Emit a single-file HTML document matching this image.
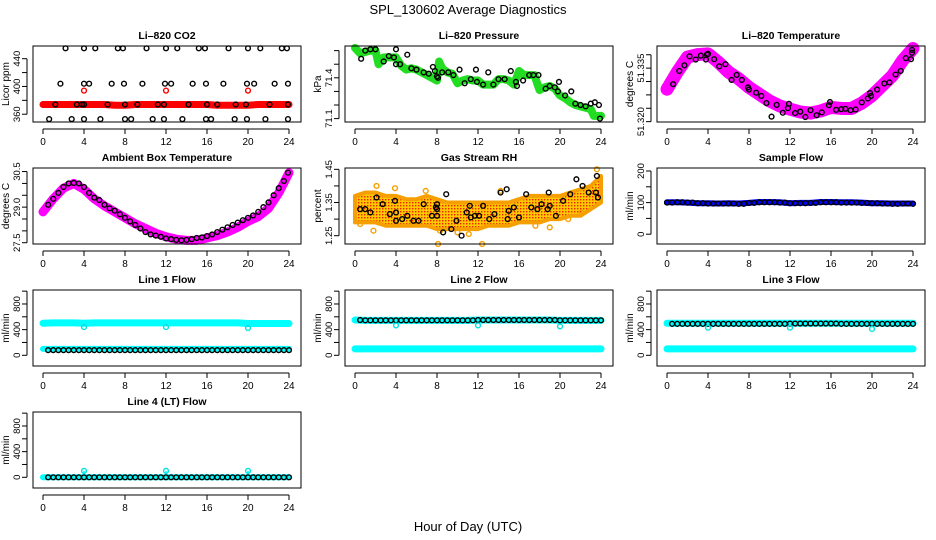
<!DOCTYPE html>
<html><head><meta charset="utf-8">
<style>
body{margin:0;background:#fff;}
svg{display:block;font-family:"Liberation Sans",Arial,sans-serif;}
</style></head>
<body>
<svg id="chart" width="936" height="540" viewBox="0 0 936 540" xmlns="http://www.w3.org/2000/svg">
<defs>
<pattern id="rhpat" width="3" height="3" patternUnits="userSpaceOnUse"><rect width="3" height="3" fill="#ffc800"/><rect x="1" y="1" width="1.4" height="1.4" fill="#f02000"/></pattern>
</defs>
<rect width="936" height="540" fill="#fff"/>
<text x="468" y="14" text-anchor="middle" font-size="13">SPL_130602  Average Diagnostics</text>
<text x="468" y="531" text-anchor="middle" font-size="13">Hour of Day (UTC)</text>
<g id="plots"></g>
</svg>
<script>
// ---- data ----
const xTicks=[0,4,8,12,16,20,24];
const bandHours=[0,1,2,3,4,5,6,7,8,9,10,11,12,13,14,15,16,17,18,19,20,21,22,23,24];
// CO2
const co2TopH=[2.2,4,5.1,7.3,7.8,10.1,12,13.1,15.2,15.8,18.1,20,21.2,23.3,23.8];
const co2MidH=[1.7,4,4.5,6.7,7.9,9.7,11.9,12.5,14.6,15.9,17.6,19.9,20.6,22.6,23.9];
const co2LowH=[1.2,3.3,3.8,4,6.3,8,9.2,11.2,11.8,14.2,16,17,18.8,19.8,22.1,23.9];
const co2BotH=[0.6,2.8,4,5.6,8,8.6,10.7,11.8,13.6,15.9,16.4,18.7,19.9,21.7,23.9];
const co2Levels=[455,404,374,353];
const co2Red=[374,374,374,374,374,374,374,373,373,374,374,374,374,374,374,374,374,373,373,373,373,374,374,374,374];
const co2RedPtsH=[4,12,20];
const co2RedPts=[394,394,394];
// Pressure
const presBandH=[0,0.5,1,1.5,2,2.3,2.8,3.5,4,4.5,5,5.5,6,6.5,7,7.5,8,8.2,8.5,9,9.5,10,10.5,11,11.5,12,12.5,13,13.5,14,14.5,15,15.5,16,16.5,17,17.5,18,18.5,19,19.5,20,20.5,21,21.5,22,22.5,23,23.3,24];
const presBand=[71.62,71.58,71.59,71.6,71.6,71.5,71.55,71.55,71.55,71.49,71.46,71.47,71.46,71.44,71.42,71.4,71.38,71.52,71.47,71.44,71.43,71.36,71.38,71.39,71.38,71.38,71.35,71.35,71.35,71.39,71.39,71.38,71.35,71.45,71.42,71.42,71.42,71.31,71.33,71.34,71.32,71.27,71.25,71.22,71.2,71.19,71.18,71.17,71.12,71.12];
const presPtsH=[0.6,1,1.5,2,2.8,3.3,3.8,4,4,4.4,5.1,5.5,6,6.7,7.2,7.6,7.8,8,8.1,8.5,9.1,9.6,10.2,10.7,11.3,11.8,11.9,12.5,13,13.5,14,14.6,15.2,15.7,15.8,16.4,17,17.4,17.9,18.6,19,19.5,19.8,19.9,20.5,21.1,21.5,22,22.5,23,23.4,23.8,23.9];
const presPts=[71.54,71.6,71.61,71.61,71.52,71.56,71.55,71.61,71.5,71.5,71.57,71.47,71.46,71.44,71.43,71.48,71.45,71.41,71.4,71.44,71.44,71.42,71.46,71.36,71.39,71.46,71.37,71.35,71.44,71.35,71.39,71.39,71.45,71.37,71.34,71.38,71.42,71.42,71.42,71.32,71.34,71.33,71.3,71.37,71.27,71.3,71.21,71.2,71.19,71.21,71.22,71.2,71.1];
// Li-820 temperature
const tempBand=[51.3291,51.3339,51.3381,51.3388,51.339,51.3367,51.3339,51.332,51.3296,51.3277,51.3258,51.3244,51.3235,51.3227,51.3224,51.323,51.324,51.3237,51.3237,51.3252,51.3273,51.3301,51.3329,51.3372,51.3405];
const tempPtsH=[0.6,1.2,1.7,2.2,2.8,3.3,3.8,3.9,4,4.6,5.1,5.7,6.3,6.8,7.3,7.9,8,8.7,9.2,9.7,10.2,10.7,11.3,11.8,11.9,12.5,13,13.5,14,14.6,15.1,15.8,15.9,16.5,17,17.4,17.9,18.4,19,19.6,19.8,19.9,20.5,21.2,21.7,22.3,22.8,23.3,23.8,23.9,23.9];
const tempPts=[51.3305,51.3342,51.3358,51.3383,51.3374,51.3385,51.3374,51.3388,51.339,51.3375,51.3355,51.3361,51.3317,51.3331,51.3317,51.3296,51.329,51.3281,51.3272,51.3252,51.3214,51.3247,51.3225,51.3238,51.325,51.3224,51.3228,51.3213,51.3232,51.3218,51.3226,51.3246,51.3255,51.3233,51.3235,51.3236,51.3232,51.3234,51.3254,51.3265,51.328,51.3272,51.329,51.3307,51.331,51.3332,51.3342,51.3378,51.3375,51.3393,51.3401];
// Ambient box temperature
const ambBand=[28.8,29.35,29.8,30.0,29.75,29.35,29.05,28.8,28.55,28.3,28.1,27.9,27.75,27.65,27.6,27.6,27.7,27.8,27.95,28.15,28.4,28.6,28.95,29.6,30.45];
const ambPtsH=[0.5,1,1.5,2,2.5,3,3.5,4,4.5,5,5.5,6,6.5,7,7.5,8,8.5,9,9.5,10,10.5,11,11.5,12,12.5,13,13.5,14,14.5,15,15.5,16,16.5,17,17.5,18,18.5,19,19.5,20,20.5,21,21.5,22,22.5,23,23.5,23.9];
const ambPts=[29.1,29.35,29.6,29.85,30.0,30.02,30.0,29.85,29.6,29.4,29.3,29.1,28.95,28.85,28.7,28.55,28.4,28.25,28.1,27.95,27.85,27.8,27.75,27.68,27.65,27.62,27.6,27.62,27.65,27.7,27.72,27.78,27.85,27.95,28.05,28.15,28.25,28.35,28.45,28.55,28.65,28.8,29.0,29.2,29.5,29.8,30.1,30.45];
// Gas stream RH
const rhUpper=[1.37,1.38,1.38,1.37,1.37,1.36,1.36,1.37,1.36,1.35,1.35,1.35,1.35,1.35,1.35,1.35,1.36,1.37,1.37,1.37,1.37,1.38,1.39,1.4,1.43];
const rhLower=[1.29,1.29,1.29,1.28,1.28,1.28,1.28,1.28,1.27,1.27,1.27,1.27,1.27,1.28,1.28,1.28,1.29,1.29,1.29,1.3,1.3,1.31,1.31,1.33,1.35];
const rhOutH=[0.5,1.8,2.1,3.9,6.9,8.1,8.3,10,11.1,12.4,14.2,17.6,19,20.8,22.1,23.6];
const rhOut=[1.285,1.265,1.40,1.393,1.385,1.225,1.265,1.26,1.255,1.225,1.385,1.28,1.275,1.30,1.32,1.45];
const rhPtsH=[0.5,1,1.5,2.1,2.7,3.4,3.9,4,4,4.6,5.1,5.7,6.2,6.7,7.5,7.9,8,8,8,8.6,8.9,9.4,9.9,10.4,10.9,11.2,11.3,11.7,12.1,12.5,13.1,13.6,14.2,14.8,14.9,15,15.5,16,16.7,17.2,17.8,18.2,18.8,18.9,19,19.6,20.3,21,21.6,22.2,22.8,23.5,23.6,23.7];
const rhPts=[1.33,1.33,1.32,1.365,1.345,1.315,1.355,1.295,1.32,1.30,1.31,1.295,1.295,1.345,1.31,1.335,1.33,1.31,1.345,1.26,1.375,1.27,1.295,1.25,1.32,1.34,1.305,1.31,1.31,1.34,1.30,1.315,1.38,1.39,1.30,1.325,1.335,1.305,1.375,1.335,1.33,1.345,1.33,1.38,1.34,1.31,1.355,1.375,1.42,1.40,1.38,1.38,1.43,1.365];
// Sample flow
const sampleBand=[101,101,100,98,98,97,98,97,99,102,102,101,98,99,99,102,102,101,101,100,98,98,97,97,97];
const samplePts=[100,101,100,98,97,97,97,96,99,101,101,100,98,98,99,101,101,100,100,99,98,97,96,97,96];
// Line flows
const l1Cyan=[500,505,505,505,500,505,505,505,505,505,505,505,505,505,505,505,505,505,505,505,495,495,495,495,495];
const l1Black=[80,80,80,80,80,80,80,80,80,80,80,80,80,80,80,80,80,80,80,80,80,80,80,80,80];
const l1Low=[100,100,100,100,100,100,100,100,100,100,100,100,100,100,100,100,100,100,100,100,100,100,100,100,100];
const dipH=[4,12,20];
const l1Dip=[440,440,425];
const l2Cyan=[550,545,545,545,545,545,545,545,545,545,545,545,550,550,550,550,550,550,550,550,545,545,545,545,545];
const l2Black=[550,545,545,545,545,545,545,545,545,545,545,545,550,550,550,550,550,550,550,550,545,545,545,545,545];
const l2Low=[100,100,100,100,100,100,100,100,100,100,100,100,100,100,100,100,100,100,100,100,100,100,100,100,100];
const l2Dip=[465,465,450];
const l3Cyan=[500,500,500,500,500,500,500,500,500,500,500,500,500,500,500,500,500,500,500,500,500,500,500,500,500];
const l3Black=[490,490,490,490,490,490,490,490,490,490,490,490,495,495,495,495,495,490,490,490,490,490,490,490,490];
const l3Low=[100,100,100,100,100,100,100,100,100,100,100,100,100,100,100,100,100,100,100,100,100,100,100,100,100];
const l3Dip=[430,430,410];
const l4Black=[0,0,0,0,0,0,0,0,0,0,0,0,0,0,0,0,0,0,0,0,0,0,0,0,0];
const l4Spike=[100,100,100];

// ---- drawing ----
const NS="http://www.w3.org/2000/svg";
const root=document.getElementById('plots');
const colL=[33,345,657], rowT=[46,168,290,412], W=268, H=76;
function mk(tag,attrs,parent){const e=document.createElementNS(NS,tag);for(const k in attrs)e.setAttribute(k,attrs[k]);(parent||root).appendChild(e);return e;}
function panel(c,r,name,title,ylab,lo,hi,ticks,labels){
  const L=colL[c],T=rowT[r];
  const g=mk('g',{});
  
  
  const X=h=>L+10+h*10.25, Y=v=>T+H-(v-lo)/(hi-lo)*H;
  const t=mk('text',{x:L+W/2,y:T-7,'text-anchor':'middle','font-size':'10.5','font-weight':'bold'},g);t.textContent=title;
  
  
  const yl=mk('text',{x:0,y:0,'text-anchor':'middle','font-size':'10',transform:`translate(${L-24},${T+H/2}) rotate(-90)`},g);yl.textContent=ylab;
  
  
  const dg=mk('g',{},g);
  
  
  const ax=mk('g',{stroke:'#000','stroke-width':1,fill:'none'},g);
  
  
  mk('rect',{x:L,y:T,width:W,height:H},ax);
  mk('line',{x1:X(0),x2:X(24),y1:T+H+7,y2:T+H+7},ax);
  xTicks.forEach(v=>{mk('line',{x1:X(v),x2:X(v),y1:T+H+7,y2:T+H+12},ax);
    const tx=mk('text',{x:X(v),y:T+H+23,'text-anchor':'middle','font-size':'10',fill:'#000',stroke:'none'},g);tx.textContent=v;
    
    });
  mk('line',{x1:L-6,x2:L-6,y1:Y(ticks[0]),y2:Y(ticks[ticks.length-1])},ax);
  ticks.forEach(v=>mk('line',{x1:L-11,x2:L-6,y1:Y(v),y2:Y(v)},ax));
  labels.forEach(v=>{const ty=mk('text',{x:0,y:0,'text-anchor':'middle','font-size':'9.5',transform:`translate(${L-13},${Y(v[0])}) rotate(-90)`},g);ty.textContent=v[1];
    
    });
  return {X,Y,g:dg};
}
function band(p,hs,vs,color,w){
  const pts=hs.map((h,i)=>p.X(h)+','+p.Y(vs[i])).join(' ');
  const e=mk('polyline',{points:pts,fill:'none',stroke:color,'stroke-width':w,'stroke-linejoin':'round','stroke-linecap':'round'},p.g);
  
  
}
function pts(p,hs,vs,color){
  hs.forEach((h,i)=>{const e=mk('circle',{cx:p.X(h),cy:p.Y(vs[i]),r:2.4,fill:'none',stroke:color,'stroke-width':1.4},p.g);
    
    });
}
const halfH=bandHours.slice(0,24).map(h=>h+0.5);

// CO2
let p=panel(0,0,'co2','Li\u2013820 CO2','Licor ppm',348.8,458.3,[360,380,400,420,440],[[360,'360'],[400,'400'],[440,'440']]);
band(p,bandHours,co2Red,'#f00',7);
[co2TopH,co2MidH,co2LowH,co2BotH].forEach((hs,k)=>pts(p,hs,hs.map(()=>co2Levels[k]),'#000'));
pts(p,co2RedPtsH,co2RedPts,'#f00');
// Pressure
p=panel(1,0,'pressure','Li\u2013820 Pressure','kPa',71.075,71.634,[71.1,71.2,71.3,71.4,71.5,71.6],[[71.1,'71.1'],[71.4,'71.4']]);
band(p,presBandH,presBand,'#22dd22',8);
pts(p,presPtsH,presPts,'#000');
// Temperature
p=panel(2,0,'li820-temperature','Li\u2013820 Temperature','degrees C',51.3199,51.3412,[51.320,51.32375,51.3275,51.33125,51.335,51.33875],[[51.320,'51.320'],[51.335,'51.335']]);
band(p,bandHours,tempBand,'#f0f',13);
pts(p,tempPtsH,tempPts,'#000');
// Ambient
p=panel(0,1,'ambient-temperature','Ambient Box Temperature','degrees C',27.446,30.65,[27.5,28,28.5,29,29.5,30,30.5],[[27.5,'27.5'],[29,'29.0'],[30.5,'30.5']]);
band(p,bandHours,ambBand,'#f0f',9);
pts(p,ambPtsH,ambPts,'#000');
// RH
p=panel(1,1,'gas-rh','Gas Stream RH','percent',1.225,1.454,[1.25,1.3,1.35,1.4,1.45],[[1.25,'1.25'],[1.35,'1.35'],[1.45,'1.45']]);
{const up=bandHours.map((h,i)=>p.X(h)+','+p.Y(rhUpper[i]));const dn=bandHours.map((h,i)=>p.X(h)+','+p.Y(rhLower[i])).reverse();
 const e=mk('polygon',{points:up.concat(dn).join(' '),fill:'url(#rhpat)',stroke:'#f5a000','stroke-width':4,'stroke-linejoin':'round'},p.g);
 
 }
pts(p,rhOutH,rhOut,'#f5a000');
pts(p,rhPtsH,rhPts,'#000');
// Sample flow
p=panel(2,1,'sample-flow','Sample Flow','ml/min',-31,209.5,[0,50,100,150,200],[[0,'0'],[100,'100'],[200,'200']]);
band(p,bandHours,sampleBand,'#0000ff',6);
pts(p,bandHours,samplePts,'#000');pts(p,halfH,samplePts.slice(0,24),'#000');
const flowTicks=[0,200,400,600,800,1000], flowLabels=[[0,'0'],[400,'400'],[800,'800']];
// Line 1
p=panel(0,2,'line1-flow','Line 1 Flow','ml/min',-167,1018,flowTicks,flowLabels);
band(p,bandHours,l1Cyan,'#00ffff',7);band(p,bandHours,l1Low,'#00ffff',6);
pts(p,bandHours.slice(1),l1Black.slice(1),'#000');pts(p,halfH,l1Black.slice(0,24),'#000');
pts(p,dipH,l1Dip,'#00e0e0');
// Line 2
p=panel(1,2,'line2-flow','Line 2 Flow','ml/min',-167,1018,flowTicks,flowLabels);
band(p,bandHours,l2Cyan,'#00ffff',7);band(p,bandHours,l2Low,'#00ffff',7);
pts(p,bandHours.slice(1),l2Black.slice(1),'#000');pts(p,halfH,l2Black.slice(0,24),'#000');
pts(p,dipH,l2Dip,'#00e0e0');
// Line 3
p=panel(2,2,'line3-flow','Line 3 Flow','ml/min',-167,1018,flowTicks,flowLabels);
band(p,bandHours,l3Cyan,'#00ffff',7);band(p,bandHours,l3Low,'#00ffff',7);
pts(p,bandHours.slice(1),l3Black.slice(1),'#000');pts(p,halfH,l3Black.slice(0,24),'#000');
pts(p,dipH,l3Dip,'#00e0e0');
// Line 4
p=panel(0,3,'line4-flow','Line 4 (LT) Flow','ml/min',-167,1018,flowTicks,flowLabels);
band(p,bandHours,l4Black,'#00ffff',6);
dipH.forEach((h,i)=>{const e=mk('line',{x1:p.X(h),x2:p.X(h),y1:p.Y(0),y2:p.Y(l4Spike[i]),stroke:'#00ffff','stroke-width':1.5},p.g);
  
  });
pts(p,dipH,l4Spike,'#00e0e0');
pts(p,bandHours.slice(1),l4Black.slice(1),'#000');pts(p,halfH,l4Black.slice(0,24),'#000');
</script>
</body></html>
